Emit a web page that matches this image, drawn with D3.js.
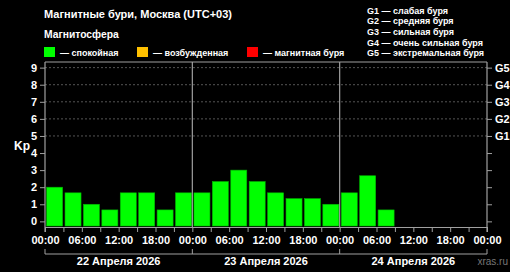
<!DOCTYPE html>
<html>
<head>
<meta charset="utf-8">
<script src="https://cdn.jsdelivr.net/npm/d3@7"></script>
<style>
  body { margin: 0; background: #000; }
  svg { display: block; font-family: "Liberation Sans", Arial, sans-serif; font-weight: bold; }
</style>
</head>
<body>
<div class="mainDiv"></div>
<script>
// Kp index, 3-hour steps starting 22 April 00:00
const kpValues = [2, 1.67, 1, 0.67, 1.67, 1.67, 0.67, 1.67,
                  1.67, 2.33, 3, 2.33, 1.67, 1.33, 1.33, 1,
                  1.67, 2.67, 0.67];
const dayLabels = ["22 Апреля 2026", "23 Апреля 2026", "24 Апреля 2026"];
const hourLabels = ["00:00", "06:00", "12:00", "18:00"];
const stormLabels = ["G1", "G2", "G3", "G4", "G5"];
const stormNames = ["слабая буря", "средняя буря", "сильная буря", "очень сильная буря", "экстремальная буря"];
const stateNames = ["спокойная", "возбужденная", "магнитная буря"];
const stateColors = ["#00ff00", "#ffc000", "#ff0000"];

const W = 510, H = 272;
const pLeft = 45, pRight = 487, pTop = 62, pBottom = 227;
const gray = "#a0a0a0";

const svg = d3.select(".mainDiv").append("svg")
  .attr("width", W).attr("height", H);

const x = d3.scaleLinear().domain([0, 72]).range([pLeft, pRight]);
const y = d3.scaleLinear().domain([-0.33, 9.33]).range([pBottom, pTop]);

// title
svg.append("text").attr("x", 44).attr("y", 18)
  .attr("fill", "#fff").attr("font-size", 11)
  .text("Магнитные бури, Москва (UTC+03)");
svg.append("text").attr("x", 44).attr("y", 38)
  .attr("fill", "#fff").attr("font-size", 10.3)
  .text("Магнитосфера");

// state legend
const legX = [44, 137, 247];
stateNames.forEach((s, i) => {
  svg.append("rect").attr("x", legX[i]).attr("y", 47)
    .attr("width", 11).attr("height", 10).attr("fill", stateColors[i]);
  svg.append("text").attr("x", legX[i] + 16).attr("y", 55.5)
    .attr("fill", "#fff").attr("font-size", 9)
    .text("— " + s);
});

// storm legend
stormLabels.forEach((g, i) => {
  svg.append("text").attr("x", 367).attr("y", 13.5 + i * 10.7)
    .attr("fill", "#fff").attr("font-size", 9)
    .text(g + " — " + stormNames[i]);
});

// grid (dotted) for 5..9
svg.append("g").selectAll("line")
  .data(d3.range(5, 10))
  .join("line")
  .attr("x1", pLeft).attr("x2", pRight)
  .attr("y1", d => y(d)).attr("y2", d => y(d))
  .attr("stroke", "#555").attr("stroke-dasharray", "2,2");

// bars
const step = x(3) - x(0);
svg.append("g").selectAll("rect")
  .data(kpValues)
  .join("rect")
  .attr("x", (d, i) => x(i * 3) + 1.6)
  .attr("width", step - 2.4)
  .attr("y", d => y(d))
  .attr("height", d => pBottom - 1 - y(d))
  .attr("fill", "#00ff00")
  .attr("stroke", "#00b400").attr("stroke-width", 0.6);

// day separators
svg.append("g").selectAll("line")
  .data([24, 48])
  .join("line")
  .attr("x1", d => x(d)).attr("x2", d => x(d))
  .attr("y1", pTop).attr("y2", pBottom)
  .attr("stroke", gray).attr("stroke-width", 1.2);

// frame top
svg.append("line").attr("x1", pLeft).attr("x2", pRight)
  .attr("y1", pTop).attr("y2", pTop).attr("stroke", gray).attr("stroke-width", 1.2);

// y axis left
const yAxisL = svg.append("g").attr("transform", `translate(${pLeft},0)`)
  .call(d3.axisLeft(y).tickValues(d3.range(0, 10)).tickSize(5).tickPadding(3).tickSizeOuter(0));
// y axis right
const yAxisR = svg.append("g").attr("transform", `translate(${pRight},0)`)
  .call(d3.axisRight(y).tickValues(d3.range(0, 10)).tickSize(5).tickPadding(3).tickSizeOuter(0)
    .tickFormat(d => d >= 5 ? stormLabels[d - 5] : ""));
// x axis
const xAxis = svg.append("g").attr("transform", `translate(0,${pBottom})`)
  .call(d3.axisBottom(x).tickValues(d3.range(0, 73, 3)).tickSize(5).tickPadding(4).tickSizeOuter(0)
    .tickFormat(d => d % 6 === 0 ? hourLabels[(d % 24) / 6] : ""));

[yAxisL, yAxisR, xAxis].forEach(a => {
  a.selectAll(".domain").attr("stroke", gray).attr("stroke-width", 1.2);
  a.selectAll(".tick line").attr("stroke", gray);
  a.selectAll("text").attr("fill", "#fff").attr("font-size", 11)
    .attr("font-family", "Liberation Sans, Arial, sans-serif").attr("font-weight", "bold");
});
yAxisL.select(".domain").attr("d", `M0,${pTop}V${pBottom + 5}`);
yAxisR.select(".domain").attr("d", `M0,${pTop}V${pBottom + 5}`);

svg.append("text").attr("x", 14).attr("y", 150)
  .attr("fill", "#fff").attr("font-size", 12).text("Kp");

// day bracket
const bracketY = 254;
svg.append("line").attr("x1", pLeft).attr("x2", pRight)
  .attr("y1", bracketY).attr("y2", bracketY).attr("stroke", gray);
svg.append("g").selectAll("line")
  .data([0, 24, 48, 72])
  .join("line")
  .attr("x1", d => x(d)).attr("x2", d => x(d))
  .attr("y1", bracketY - 5).attr("y2", bracketY)
  .attr("stroke", gray);
svg.append("g").selectAll("text")
  .data(dayLabels)
  .join("text")
  .attr("x", (d, i) => x(i * 24 + 12))
  .attr("y", 265)
  .attr("text-anchor", "middle")
  .attr("fill", "#fff").attr("font-size", 11)
  .text(d => d);

svg.append("text").attr("x", 508).attr("y", 265)
  .attr("text-anchor", "end").attr("fill", "#777")
  .attr("font-size", 10).attr("font-weight", "normal")
  .text("xras.ru");
</script>
</body>
</html>
